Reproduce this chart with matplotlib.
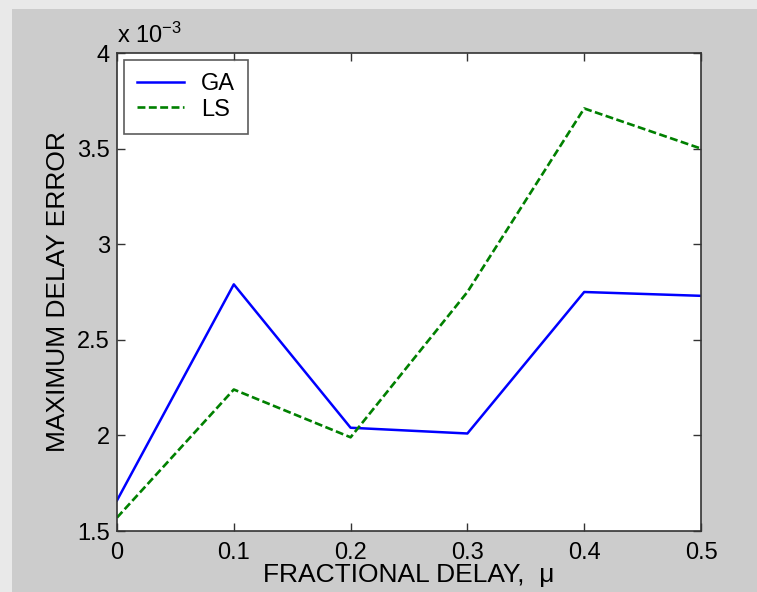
import matplotlib
matplotlib.use("Agg")
import matplotlib.pyplot as plt
from matplotlib.patches import Rectangle

mu = [0.0, 0.1, 0.2, 0.3, 0.4, 0.5]
ga = [1.66, 2.79, 2.04, 2.01, 2.75, 2.73]   # x 1e-3
ls = [1.57, 2.24, 1.99, 2.75, 3.71, 3.50]   # x 1e-3
xticks = [0, 0.1, 0.2, 0.3, 0.4, 0.5]
xticklabels = ["0", "0.1", "0.2", "0.3", "0.4", "0.5"]
yticks = [1.5, 2, 2.5, 3, 3.5, 4]
yticklabels = ["1.5", "2", "2.5", "3", "3.5", "4"]

plt.rcParams['font.family'] = ['Liberation Sans', 'DejaVu Sans']
plt.rcParams['mathtext.fontset'] = 'custom'
plt.rcParams['mathtext.rm'] = 'Liberation Sans'
plt.rcParams['mathtext.it'] = 'Liberation Sans:italic'
plt.rcParams['mathtext.bf'] = 'Liberation Sans:bold'

W, H = 757, 592
fig = plt.figure(figsize=(W/100, H/100), dpi=100, facecolor='#cccccc')
# light outer frame (top and left)
fig.patches.append(Rectangle((0, 1 - 9/H), 1, 9/H, transform=fig.transFigure,
                             facecolor='#e9e9e9', edgecolor='none', zorder=-1))
fig.patches.append(Rectangle((0, 0), 12/W, 1, transform=fig.transFigure,
                             facecolor='#e9e9e9', edgecolor='none', zorder=-1))

ax = fig.add_axes([117/W, (H-531)/H, (701-117)/W, (531-53)/H])
ax.set_facecolor('white')
ax.plot(mu, ga, color='#0000ff', lw=1.8, label='GA')
ax.plot(mu, ls, color='#008000', lw=1.9, ls=(0, (3.0, 1.3)), label='LS')
ax.set_xlim(0, 0.5)
ax.set_ylim(1.5, 4)
ax.set_xticks(xticks)
ax.set_xticklabels(xticklabels)
ax.set_yticks(yticks)
ax.set_yticklabels(yticklabels)
ax.tick_params(direction='in', length=6, width=1, labelsize=17, pad=5,
               top=True, right=True, colors='#333333', labelcolor='black')
ax.tick_params(axis='x', pad=8)
for s in ax.spines.values():
    s.set_color('#333333')
    s.set_linewidth(1.2)

ax.set_xlabel('FRACTIONAL DELAY,  μ', fontsize=19, labelpad=-1)
ax.set_ylabel('MAXIMUM DELAY ERROR', fontsize=19, labelpad=5)
fig.text(117/W, 1 - 43/H, r'$\mathregular{x\ 10^{-3}}$', fontsize=17,
         ha='left', va='baseline')

leg = ax.legend(loc='upper left', fontsize=17, frameon=True, fancybox=False,
                borderaxespad=0.3, handlelength=2.0, handletextpad=0.72,
                labelspacing=0.15, borderpad=0.55)
leg.get_frame().set_edgecolor('#333333')
leg.get_frame().set_linewidth(1.2)

fig.savefig('out.png', dpi=100, facecolor=fig.get_facecolor())
